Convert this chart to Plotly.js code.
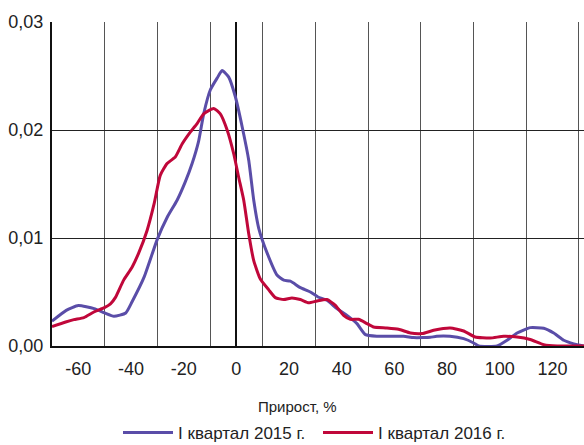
<!DOCTYPE html>
<html>
<head>
<meta charset="utf-8">
<script src="https://cdn.plot.ly/plotly-3.0.1.min.js"></script>
<style>
html,body{margin:0;padding:0;background:#fff}
#chart{width:584px;height:445px}
</style>
</head>
<body>
<div id="chart"></div>
<script>
// Series names
const seriesNames = ["I квартал 2015 г.", "I квартал 2016 г."];
const axisTitle = "Прирост, %";

// I квартал 2015 г. (blue)
const x2015 = [-70, -64.6, -60, -54, -50, -46.5, -42, -39.6, -35, -30, -26.3, -22.5, -19.4, -16.8, -14.3, -12.4, -9.9, -7.3, -5.4, -2.9, -0.4, 2.2, 4.7, 6.6, 8.5, 11.7, 15.5, 18, 20.5, 24.3, 28.1, 31, 34.4, 38.2, 42, 45.8, 49, 53.4, 58.5, 63.5, 67.3, 71, 73.6, 76.1, 81.1, 86.3, 90.1, 92, 99, 102.8, 106.6, 111.6, 116.7, 120.5, 124.3, 128.1, 132];
const y2015 = [0.0023, 0.0033, 0.00375, 0.00346, 0.00306, 0.00275, 0.00306, 0.0041, 0.0064, 0.0099, 0.0119, 0.0135, 0.0152, 0.0169, 0.019, 0.0215, 0.0237, 0.0248, 0.0255, 0.0249, 0.0231, 0.0203, 0.0172, 0.0135, 0.0109, 0.0086, 0.00655, 0.0061, 0.006, 0.0054, 0.005, 0.00454, 0.00423, 0.00346, 0.00284, 0.00207, 0.00105, 0.0009, 0.0009, 0.0009, 0.00078, 0.00078, 0.0008, 0.0009, 0.0009, 0.00068, 0.00028, 0.0, 0.0, 0.00053, 0.0012, 0.0017, 0.00164, 0.0012, 0.00053, 0.0002, 0.0];

// I квартал 2016 г. (red)
const x2016 = [-70, -64.8, -61.7, -57.9, -54.1, -50.1, -47.8, -45.9, -42.8, -39.6, -37.1, -33.9, -31.2, -28.9, -26.3, -23.2, -20.6, -17.5, -14.9, -12.4, -8.6, -6.1, -3.5, -1, 0.9, 2.8, 4.7, 6.6, 9.1, 12.3, 14.8, 18, 21.1, 24.3, 27.5, 30.6, 34.4, 37.6, 40.7, 43.3, 46.4, 49.6, 52.1, 57.2, 61.6, 66.1, 70.5, 74.9, 81.2, 86.3, 90.7, 96.4, 101.5, 106.6, 111.6, 116.7, 121.8, 132];
const y2016 = [0.0018, 0.00222, 0.00244, 0.00263, 0.00315, 0.00355, 0.0039, 0.0045, 0.0061, 0.0073, 0.0086, 0.0107, 0.0132, 0.0158, 0.0169, 0.0175, 0.0187, 0.0198, 0.0206, 0.0215, 0.022, 0.0215, 0.02, 0.0178, 0.0156, 0.0135, 0.0104, 0.0079, 0.0062, 0.0052, 0.00448, 0.0043, 0.00445, 0.0043, 0.004, 0.00417, 0.0043, 0.00377, 0.00284, 0.00247, 0.00247, 0.00207, 0.00176, 0.00167, 0.00155, 0.0012, 0.00115, 0.00145, 0.00167, 0.00139, 0.00083, 0.00074, 0.0009, 0.00083, 0.0006, 0.00013, 0.0, 0.0];

const xTickVals = [-60, -40, -20, 0, 20, 40, 60, 80, 100, 120];
const xTickText = ["-60", "-40", "-20", "0", "20", "40", "60", "80", "100", "120"];
const yTickVals = [0, 0.01, 0.02, 0.03];
const yTickText = ["0,00", "0,01", "0,02", "0,03"];

const FONT = '"Liberation Sans", Arial, sans-serif';

const traces = [
  {x: x2015, y: y2015, name: seriesNames[0], type: 'scatter', mode: 'lines',
   line: {color: '#5a4da8', width: 3, shape: 'spline', smoothing: 0.5}},
  {x: x2016, y: y2016, name: seriesNames[1], type: 'scatter', mode: 'lines',
   line: {color: '#c0073a', width: 3, shape: 'spline', smoothing: 0.5}}
];

const layout = {
  width: 584, height: 445,
  margin: {l: 52, r: 0, t: 22, b: 99, pad: 0},
  paper_bgcolor: '#fff', plot_bgcolor: '#fff',
  font: {family: FONT, color: '#222', size: 18},
  showlegend: true,
  legend: {
    orientation: 'h', xref: 'container', yref: 'container',
    x: 118/584, xanchor: 'left', y: 1 - 433/445, yanchor: 'middle',
    font: {family: FONT, size: 17, color: '#222'},
    itemwidth: 50, entrywidth: 135, traceorder: 'normal',
    bgcolor: 'rgba(0,0,0,0)', borderwidth: 0
  },
  xaxis: {
    range: [-70, 132], tickvals: xTickVals, ticktext: xTickText, ticks: '', showgrid: false,
    minor: {tick0: -50, dtick: 20, showgrid: true, gridcolor: '#555', gridwidth: 1, ticks: ''},
    zeroline: true, zerolinecolor: '#111', zerolinewidth: 2,
    showline: true, linecolor: '#111', linewidth: 2,
    tickfont: {family: FONT, size: 18, color: '#222'},
    ticklabelstandoff: 5, fixedrange: true
  },
  yaxis: {
    range: [0, 0.03], tickvals: yTickVals, ticktext: yTickText, ticks: '',
    showgrid: true, gridcolor: '#222', gridwidth: 1,
    zeroline: false, showline: true, linecolor: '#111', linewidth: 2,
    tickfont: {family: FONT, size: 18, color: '#222'},
    ticklabelstandoff: 3, fixedrange: true
  },
  annotations: [{
    text: axisTitle, xref: 'paper', yref: 'paper', x: (297-52)/532, y: -(406-346)/324,
    xanchor: 'center', yanchor: 'middle', showarrow: false,
    font: {family: FONT, size: 15, color: '#222'}
  }]
};

Plotly.newPlot('chart', traces, layout, {displayModeBar: false, staticPlot: true});
</script>
</body>
</html>
